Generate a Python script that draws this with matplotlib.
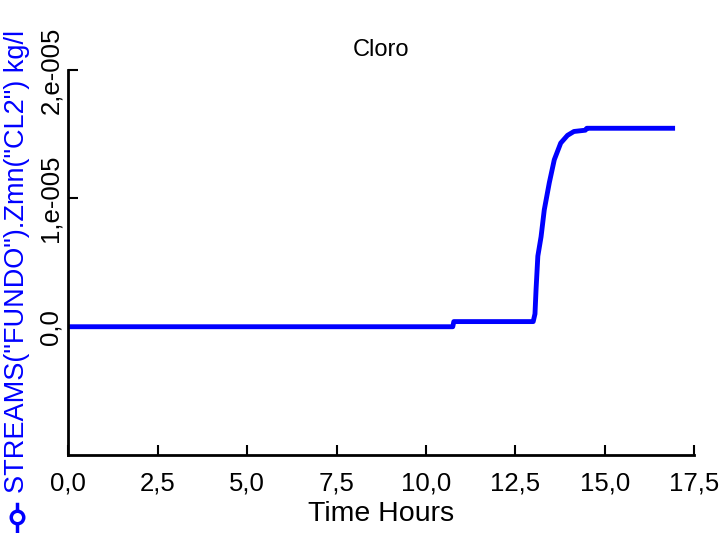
import matplotlib
matplotlib.use("Agg")
import matplotlib.pyplot as plt
from matplotlib.lines import Line2D

plt.rcParams['font.family'] = ['Liberation Sans', 'DejaVu Sans']

# Valores (horas, kg/l)
tiempo = [0.0, 10.75, 10.78, 13.0, 13.05, 13.08, 13.13, 13.22, 13.31, 13.45,
          13.59, 13.77, 13.96, 14.14, 14.46, 14.5, 16.9]
cloro = [0.0, 0.0, 0.04e-5, 0.04e-5, 0.1e-5, 0.29e-5, 0.55e-5, 0.70e-5, 0.91e-5,
         1.12e-5, 1.30e-5, 1.43e-5, 1.49e-5, 1.52e-5, 1.53e-5, 1.545e-5, 1.545e-5]

xticks = [0, 2.5, 5, 7.5, 10, 12.5, 15, 17.5]
xlabels = ["0,0", "2,5", "5,0", "7,5", "10,0", "12,5", "15,0", "17,5"]
yticks = [0.0, 1e-5, 2e-5]
ylabels = ["0,0", "1,e-005", "2,e-005"]

AZUL = "#0000ff"

fig = plt.figure(figsize=(7.2, 5.33), dpi=100)
ax = fig.add_axes([0.095, 0.146, 0.869, 0.723])

ax.plot(tiempo, cloro, color=AZUL, lw=3.5)

ax.set_xlim(0, 17.5)
ax.set_ylim(-1e-5, 2e-5)
ax.set_xticks(xticks)
ax.set_xticklabels(xlabels, fontsize=18.5)
ax.set_yticks(yticks)
ax.set_yticklabels(ylabels, fontsize=18.5, rotation=90, va='center')
ax.tick_params(direction='in', length=7, width=1.5)
ax.tick_params(axis='x', pad=12)
ax.tick_params(axis='y', pad=4)
for s in ['top', 'right']:
    ax.spines[s].set_visible(False)
for s in ['left', 'bottom']:
    ax.spines[s].set_linewidth(2)

ax.set_xlabel("Time Hours", fontsize=20.5, labelpad=4)
ax.set_title("Cloro", fontsize=17, pad=10)

# etiqueta del eje y como leyenda azul
fig.text(0.024, 0.51, 'STREAMS("FUNDO").Zmn("CL2") kg/l', rotation=90,
         color=AZUL, fontsize=19.5, ha='center', va='center')
fig.add_artist(Line2D([0.024, 0.024], [0.0, 0.055], color=AZUL, lw=2.5,
                      transform=fig.transFigure))
fig.add_artist(Line2D([0.024], [0.03], color=AZUL, marker='o', ms=9,
                      mfc='white', mew=2.5, transform=fig.transFigure))

fig.savefig("out.png", dpi=100)
